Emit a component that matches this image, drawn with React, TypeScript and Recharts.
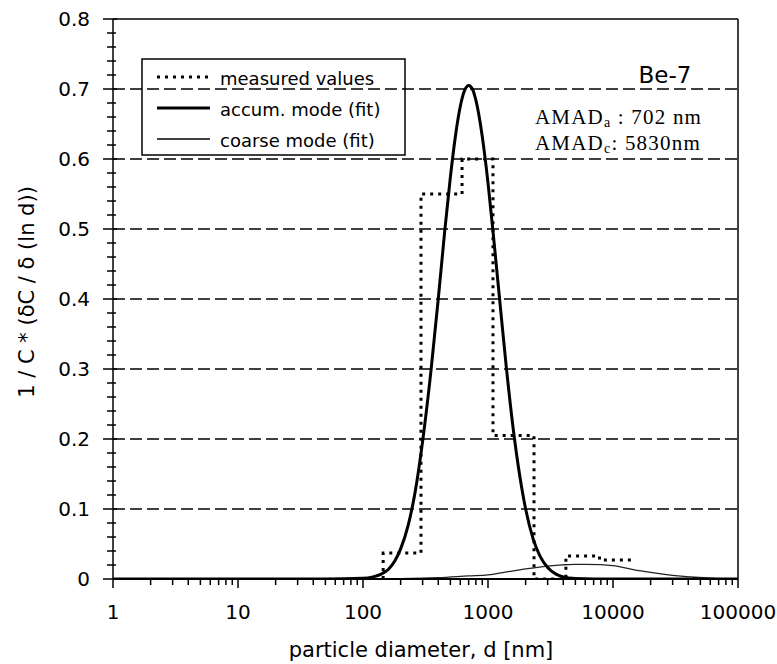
import React from 'react';
import { LineChart, Line, XAxis, YAxis, ReferenceLine, Customized } from 'recharts';

// accumulation mode fit
const accumD = [1, 10, 50, 100, 120, 140, 160, 180, 200, 230, 260, 300, 350, 400, 450, 500, 550, 600, 650, 702, 750, 800, 900, 1000, 1100, 1200, 1400, 1600, 1800, 2000, 2300, 2600, 3000, 3500, 4000, 5000, 7000, 10000, 100000];
const accumV = [0, 0, 0, 0.001, 0.003, 0.007, 0.014, 0.026, 0.043, 0.077, 0.122, 0.197, 0.298, 0.40, 0.496, 0.574, 0.634, 0.675, 0.698, 0.705, 0.70, 0.684, 0.632, 0.566, 0.494, 0.425, 0.303, 0.211, 0.146, 0.100, 0.057, 0.033, 0.0165, 0.007, 0.003, 0.0007, 0, 0, 0];

// coarse mode fit
const coarseD = [1, 10, 100, 200, 400, 700, 1000, 1500, 2000, 3000, 4000, 5000, 6000, 8000, 10000, 14500, 20000, 25000, 35000, 45000, 60000, 80000, 100000];
const coarseV = [0, 0, 0, 0.0005, 0.002, 0.0045, 0.006, 0.011, 0.0145, 0.0185, 0.0203, 0.021, 0.021, 0.0205, 0.019, 0.0135, 0.0095, 0.007, 0.004, 0.0025, 0.0012, 0.0005, 0.0002];

// measured values (step boundaries and levels)
const measuredD = [145, 145, 291, 620, 1096, 2333, 4200, 7800, 14900];
const measuredV = [0, 0.037, 0.55, 0.60, 0.205, 0, 0.033, 0.027, 0.027];

const xMajorTicks = [1, 10, 100, 1000, 10000, 100000];
const xTickLabels = ['1', '10', '100', '1000', '10000', '100000'];
const xMinorMultipliers = [2, 3, 4, 5, 6, 7, 8, 9];
const yMajorTicks = [0, 0.1, 0.2, 0.3, 0.4, 0.5, 0.6, 0.7, 0.8];
const yTickLabels = ['0', '0.1', '0.2', '0.3', '0.4', '0.5', '0.6', '0.7', '0.8'];
const yMinorStep = 0.02;
const gridValues = [0.1, 0.2, 0.3, 0.4, 0.5, 0.6, 0.7];

const accumData = accumD.map((d, i) => ({ d, v: accumV[i] }));
const coarseData = coarseD.map((d, i) => ({ d, v: coarseV[i] }));
const measuredData = measuredD.map((d, i) => ({ d, v: measuredV[i] }));

const xTicks: number[] = [];
xMajorTicks.forEach((d, i) => {
  xTicks.push(d);
  if (i < xMajorTicks.length - 1) xMinorMultipliers.forEach((m) => xTicks.push(m * d));
});
const yTicks: number[] = Array.from({ length: 41 }, (_, i) => Number((i * yMinorStep).toFixed(2)));

const FONT = 'DejaVu Sans';
const SERIF = 'Liberation Serif';

const XTick = (props: any) => {
  const { x, y, payload } = props;
  const idx = xMajorTicks.indexOf(payload.value);
  const major = idx >= 0;
  return (
    <g>
      <line x1={x} x2={x} y1={y} y2={y + (major ? 9 : 6)} stroke="#000" strokeWidth={1.5} />
      {major && (
        <text x={x} y={y + 40} textAnchor="middle" fontFamily={FONT} fontSize={20} fill="#000">
          {xTickLabels[idx]}
        </text>
      )}
    </g>
  );
};

const YTick = (props: any) => {
  const { x, y, payload } = props;
  const idx = yMajorTicks.findIndex((t) => Math.abs(t - payload.value) < 1e-9);
  const major = idx >= 0;
  return (
    <g>
      <line x1={x - (major ? 10 : 6)} x2={x + (major ? 4 : 3)} y1={y} y2={y} stroke="#000" strokeWidth={1.5} />
      {major && (
        <text x={x - 23} y={y + 7} textAnchor="end" fontFamily={FONT} fontSize={20} fill="#000">
          {yTickLabels[idx]}
        </text>
      )}
    </g>
  );
};

const Overlay = () => (
  <g>
    {/* legend */}
    <rect x={142} y={59} width={263} height={96} fill="#fff" stroke="#000" strokeWidth={1.5} />
    <line x1={157} x2={210} y1={77} y2={77} stroke="#000" strokeWidth={3} strokeDasharray="3 5" />
    <line x1={157} x2={210} y1={108} y2={108} stroke="#000" strokeWidth={3} />
    <line x1={157} x2={210} y1={139} y2={139} stroke="#000" strokeWidth={1.3} />
    <text x={220} y={78} dominantBaseline="central" fontFamily={FONT} fontSize={18} fill="#000">measured values</text>
    <text x={220} y={109} dominantBaseline="central" fontFamily={FONT} fontSize={18} fill="#000">accum. mode (fit)</text>
    <text x={220} y={140} dominantBaseline="central" fontFamily={FONT} fontSize={18} fill="#000">coarse mode (fit)</text>

    {/* annotations */}
    <text x={665} y={83} textAnchor="middle" fontFamily={FONT} fontSize={23} fill="#000">Be-7</text>
    <rect x={517} y={97} width={207} height={66} fill="#fff" />
    <text x={535} y={124} fontFamily={SERIF} fontSize={21} letterSpacing={1.2} fill="#000">
      AMAD<tspan fontSize={14} dy={3}>a</tspan>
      <tspan dy={-3}> : 702 nm</tspan>
    </text>
    <text x={535} y={150} fontFamily={SERIF} fontSize={21} letterSpacing={1.2} fill="#000">
      AMAD<tspan fontSize={14} dy={3}>c</tspan>
      <tspan dy={-3}>: 5830nm</tspan>
    </text>

    {/* axis titles */}
    <text
      transform="translate(27,292) rotate(-90)"
      textAnchor="middle"
      dominantBaseline="central"
      fontFamily={FONT}
      fontSize={21}
      fill="#000"
    >
      1 / C * (δC / δ (ln d))
    </text>
    <text x={421} y={650} textAnchor="middle" dominantBaseline="central" fontFamily={FONT} fontSize={21} fill="#000">
      particle diameter, d [nm]
    </text>
  </g>
);

export default function App() {
  return (
    <div style={{ width: 777, height: 664, background: '#fff' }}>
      <style>{'body{margin:0;background:#fff}'}</style>
      <LineChart width={777} height={664} margin={{ top: 19, right: 39, bottom: 0, left: 0 }}>
        <XAxis
          dataKey="d"
          type="number"
          scale="log"
          domain={[1, 100000]}
          ticks={xTicks}
          interval={0}
          tick={XTick}
          tickLine={false}
          tickSize={0}
          tickMargin={0}
          height={85}
          axisLine={{ stroke: '#000', strokeWidth: 2 }}
          allowDataOverflow
        />
        <YAxis
          type="number"
          domain={[0, 0.8]}
          ticks={yTicks}
          interval={0}
          tick={YTick}
          tickLine={false}
          tickSize={0}
          tickMargin={0}
          width={113}
          axisLine={{ stroke: '#000', strokeWidth: 1.5 }}
          allowDataOverflow
        />
        {gridValues.map((v) => (
          <ReferenceLine key={v} y={v} stroke="#000" strokeWidth={1.3} strokeDasharray="12 5" />
        ))}
        <ReferenceLine y={0.8} stroke="#000" strokeWidth={1.5} />
        <ReferenceLine x={100000} stroke="#000" strokeWidth={1.5} />
        <Line
          data={coarseData}
          dataKey="v"
          type="monotone"
          stroke="#222"
          strokeWidth={1.3}
          dot={false}
          activeDot={false}
          isAnimationActive={false}
        />
        <Line
          data={accumData}
          dataKey="v"
          type="monotone"
          stroke="#000"
          strokeWidth={3}
          dot={false}
          activeDot={false}
          isAnimationActive={false}
        />
        <Line
          data={measuredData}
          dataKey="v"
          type="stepAfter"
          stroke="#000"
          strokeWidth={3}
          strokeDasharray="3 5"
          dot={false}
          activeDot={false}
          isAnimationActive={false}
        />
        <Customized component={Overlay} />
      </LineChart>
    </div>
  );
}
